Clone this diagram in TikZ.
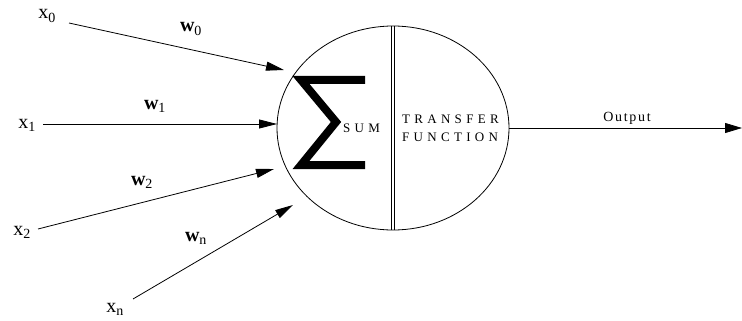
\documentclass[tikz,border=0pt]{standalone}
\usepackage{fontspec}
\setmainfont{Liberation Serif}
\usetikzlibrary{arrows.meta,shapes.geometric}
\begin{document}
\begin{tikzpicture}[x=1pt,y=-1pt,
  conn/.style={line width=0.8pt,-{Triangle[length=18pt,width=9pt]}},
  inlab/.style={inner sep=0pt,font=\fontsize{20}{20}\selectfont},
  wlab/.style={inner sep=0pt,font=\fontsize{20}{20}\selectfont},
  caps/.style={inner sep=0pt,font=\fontsize{13}{13}\selectfont\addfontfeature{LetterSpace=33}},
]
\useasboundingbox (0,0) rectangle (742,321);
% neuron body
\node[draw,ellipse,line width=0.8pt,minimum width=232pt,minimum height=204pt,inner sep=0pt] (cell) at (393,128) {};
\draw[line width=0.8pt] (391,26) -- (391,230) (394.5,26) -- (394.5,230);
% sigma
\draw[line width=8pt,line join=miter,miter limit=10] (365,80) -- (301,80) -- (336,122) -- (301,165) -- (365,165);
\node[caps,anchor=west] (sum) at (343,128) {SUM};
\node[caps,anchor=west] (tr) at (402,119) {TRANSFER};
\node[caps,anchor=west] (fn) at (402,137) {FUNCTION};
% inputs
\node[inlab] (x0) at (47,16) {x\textsubscript{0}};
\node[inlab] (x1) at (27,125) {x\textsubscript{1}};
\node[inlab] (x2) at (22,232) {x\textsubscript{2}};
\node[inlab] (xn) at (115,309) {x\textsubscript{n}};
\node[wlab] (w0) at (191,29) {\textbf{w}\textsubscript{0}};
\node[wlab] (w1) at (155,106) {\textbf{w}\textsubscript{1}};
\node[wlab] (w2) at (142,182) {\textbf{w}\textsubscript{2}};
\node[wlab] (wn) at (196,238) {\textbf{w}\textsubscript{n}};
\coordinate (s0) at (69,23);  \coordinate (t0) at (284,70);
\coordinate (s1) at (43,124); \coordinate (t1) at (277,124);
\coordinate (s2) at (38,229); \coordinate (t2) at (274,169);
\coordinate (sn) at (133,299); \coordinate (tn) at (293,205);
\draw[conn] (s0) -- (t0);
\draw[conn] (s1) -- (t1);
\draw[conn] (s2) -- (t2);
\draw[conn] (sn) -- (tn);
% output
\coordinate (out) at (742,128);
\draw[conn,-{Triangle[length=17pt,width=10pt]}] (cell.east) -- (out);
\node[inner sep=0pt,font=\fontsize{14}{14}\selectfont\addfontfeature{LetterSpace=12}] (olab) at (627,118) {Output};
\end{tikzpicture}
\end{document}
